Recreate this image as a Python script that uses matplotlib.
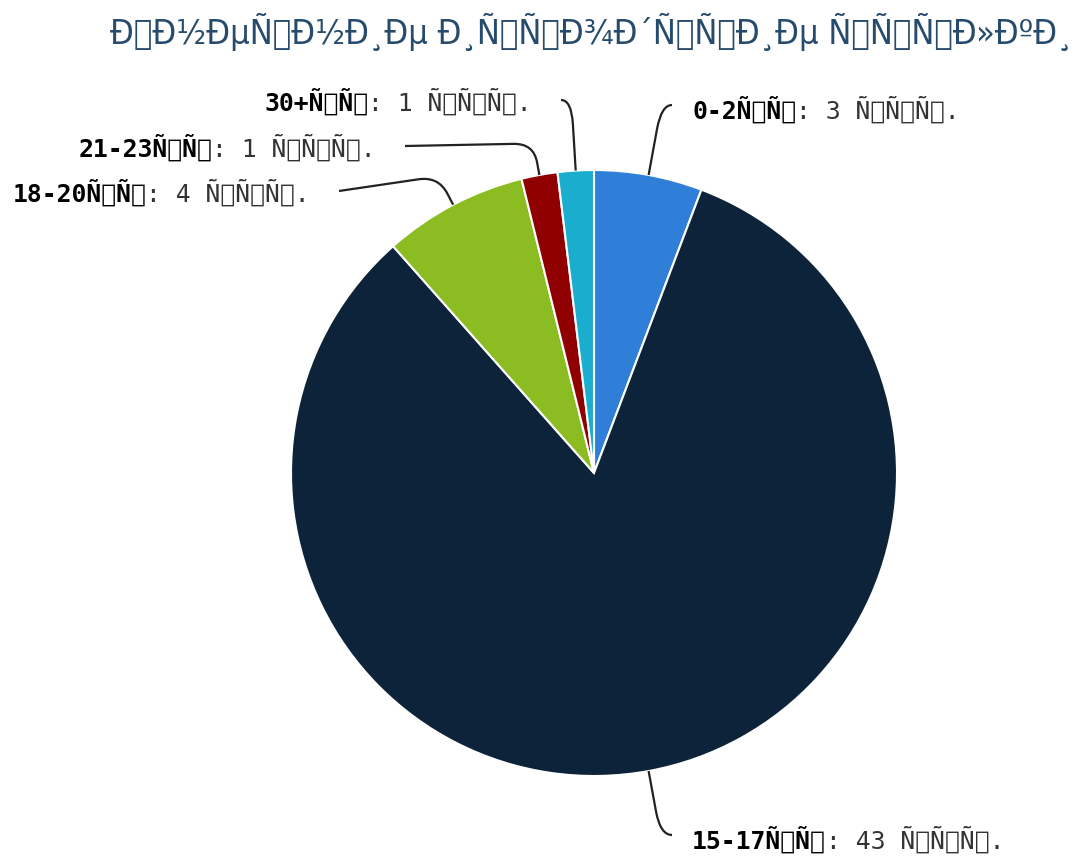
#!/usr/bin/env python
#
# Pie chart of outgoing links by group (text shown as in the source: utf-8 read as latin-1)

import numpy as np
import matplotlib
matplotlib.use('Agg')
import matplotlib.pyplot as plt
from matplotlib.path import Path
from matplotlib.patches import PathPatch
from matplotlib.offsetbox import TextArea, HPacker, AnnotationBbox


def garble(s):
    # the source page shows utf-8 bytes decoded as latin-1
    return s.encode('utf-8').decode('latin-1')


title = garble('Внешние исходящие ссылки')
groups = ['0-2', '15-17', '18-20', '21-23', '30+']
values = [3, 43, 4, 1, 1]
unit_group = garble('чс')
unit_value = garble('тыс')
colors = ['#2f7ed8', '#0d233a', '#8bbc21', '#910000', '#1aadce']

# label anchor (pixel coords, y from top) and side
label_pos = [(692, 110, 'left'), (692, 840, 'left'), (310, 193, 'right'),
             (376, 148, 'right'), (532, 102, 'right')]

W, H = 1077, 856


def main():
    fig = plt.figure(figsize=(W / 100, H / 100), dpi=100)
    ax = fig.add_axes([0, 0, 1, 1])

    cx, cy, r = 594, H - 473, 303
    wedges, _ = ax.pie(values, colors=colors, startangle=90, counterclock=False,
                       center=(cx, cy), radius=r, frame=True,
                       wedgeprops=dict(edgecolor='white', linewidth=1.5))
    ax.set_xlim(0, W)
    ax.set_ylim(0, H)
    ax.set_aspect('equal')
    ax.axis('off')

    for w, g, v, (lx, ly, side) in zip(wedges, groups, values, label_pos):
        mid = np.deg2rad((w.theta1 + w.theta2) / 2)
        d = np.array([np.cos(mid), np.sin(mid)])
        p0 = np.array([cx, cy]) + d * r
        ty = H - ly
        if side == 'left':
            end = np.array([lx - 20, ty + 5])
        else:
            end = np.array([lx + 29, ty + 2])
        L = max(32, abs(end[1] - p0[1]) / abs(d[1]))
        c = p0 + d * L
        dist = np.linalg.norm(end - c)
        u = (end - c) / dist
        a = c - d * min(24, 0.6 * L)
        b = c + u * min(20, dist)
        path = Path([p0, a, c, b, end],
                    [Path.MOVETO, Path.LINETO, Path.CURVE3, Path.CURVE3, Path.LINETO])
        ax.add_patch(PathPatch(path, fill=False, edgecolor='#222222', linewidth=1.6))

        bold = TextArea(g + unit_group, textprops=dict(family='DejaVu Sans Mono', weight='bold',
                                                     size=17.8, color='#000000'))
        rest = TextArea(': %d %s.' % (v, unit_value),
                        textprops=dict(family='DejaVu Sans Mono', size=17.8, color='#333333'))
        box = HPacker(children=[bold, rest], pad=0, sep=0, align='baseline')
        ab = AnnotationBbox(box, (lx, ty), xycoords='data', frameon=False, pad=0,
                            box_alignment=(0 if side == 'left' else 1, 0.5))
        ax.add_artist(ab)

    ax.text(591, H - 32, title, ha='center', va='center', fontsize=24.7,
            color='#274b6d', family='DejaVu Sans', fontstretch='condensed')

    plt.savefig('out.png', dpi=100)


if __name__ == "__main__":
    main()
